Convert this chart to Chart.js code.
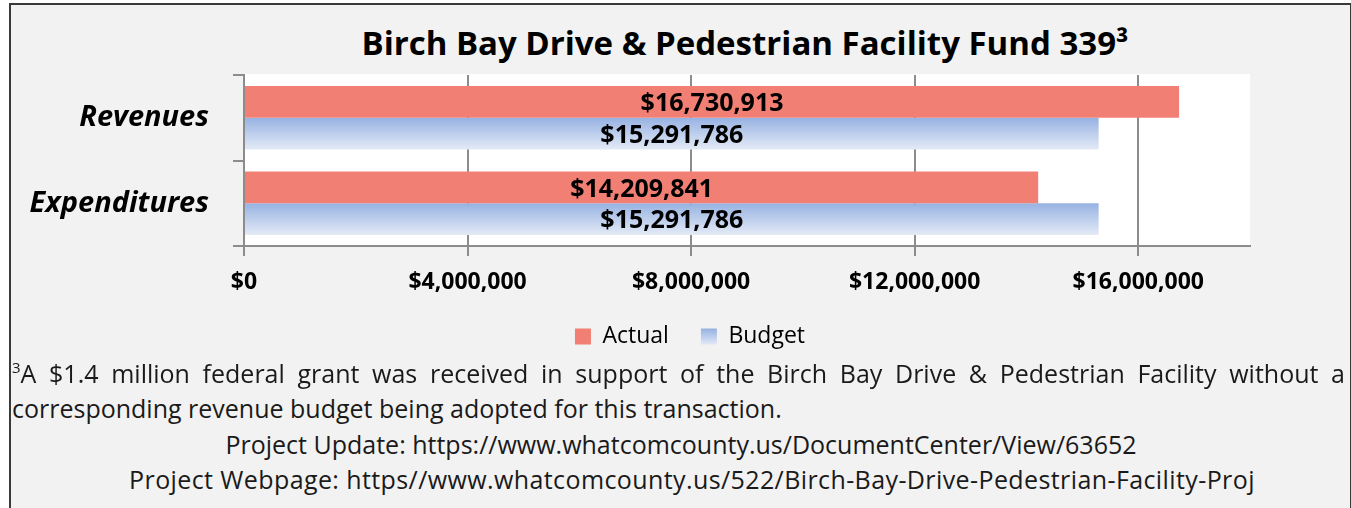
<!DOCTYPE html>
<html>
<head>
<meta charset="utf-8">
<title>Birch Bay Drive & Pedestrian Facility Fund 339</title>
<script src="https://cdn.jsdelivr.net/npm/chart.js@4.4.0/dist/chart.umd.min.js"></script>
<style>
  html, body { margin: 0; padding: 0; background: #fff; }
  body { width: 1351px; height: 508px; overflow: hidden; position: relative; font-family: "Open Sans", sans-serif; color: #000; }
  #frame { position: absolute; left: 9px; top: 3px; width: 1339px; height: 530px; border: 2px solid #3a3a3a; background: #f2f2f2; }
  #chartBox { position: absolute; left: 0; top: 0; width: 1351px; height: 360px; }
  #title { position: absolute; left: 0; top: 21px; width: 1490px; text-align: center; font-weight: bold; font-size: 33px; line-height: 44px; }
  .note { position: absolute; font-size: 25px; line-height: 35px; color: #1a1a1a; white-space: nowrap; }
  #note1 { left: 12px; top: 356px; width: 1333px; text-align: justify; text-align-last: justify; white-space: normal; }
  #note1 sup { font-size: 15px; vertical-align: 10px; line-height: 0; }
  #note2 { left: 12px; top: 391px; }
  #link1 { left: 0; top: 427px; width: 1362px; text-align: center; }
  #link2 { left: 0; top: 462px; width: 1384px; text-align: center; letter-spacing: 0.4px; }
</style>
</head>
<body>
<div id="frame"></div>
<div id="title">Birch Bay Drive &amp; Pedestrian Facility Fund 339³</div>
<div id="chartBox"><canvas id="fundChart"></canvas></div>
<div class="note" id="note1"><sup>3</sup>A $1.4 million federal grant was received in support of the Birch Bay Drive &amp; Pedestrian Facility without a</div>
<div class="note" id="note2">corresponding revenue budget being adopted for this transaction.</div>
<div class="note" id="link1">Project Update: https://www.whatcomcounty.us/DocumentCenter/View/63652</div>
<div class="note" id="link2">Project Webpage: https//www.whatcomcounty.us/522/Birch-Bay-Drive-Pedestrian-Facility-Proj</div>

<script>
const categories = ['Revenues', 'Expenditures'];
const seriesNames = ['Actual', 'Budget'];
const actualValues = [16730913, 14209841];
const budgetValues = [15291786, 15291786];
const axisMax = 18000000;
const tickValues = [0, 4000000, 8000000, 12000000, 16000000];

const FONT = 'Open Sans';
const ACTUAL_RED = '#f17f74';
const BUDGET_TOP = '#97b2e2';
const BUDGET_BOTTOM = '#e3eaf6';
const GRID = '#8c8c8c';
const CAT_PCT = 0.74;
const LEGEND_PAD = 32;

const money = v => '$' + Math.round(v).toLocaleString('en-US');

function blueFade(ctx, top, bottom) {
  if (!Number.isFinite(top) || !Number.isFinite(bottom) || bottom <= top) return BUDGET_TOP;
  const g = ctx.createLinearGradient(0, top, 0, bottom);
  g.addColorStop(0, BUDGET_TOP);
  g.addColorStop(1, BUDGET_BOTTOM);
  return g;
}

// budget bars fade from blue at the top edge to pale at the bottom
function budgetFill(c) {
  const chart = c.chart;
  const y = chart.scales.y;
  if (!y || c.dataIndex === undefined) return BUDGET_TOP;
  const band = (y.bottom - y.top) / categories.length;
  const mid = y.getPixelForValue(c.dataIndex);
  return blueFade(chart.ctx, mid, mid + band * CAT_PCT / 2);
}

const plotBackground = {
  id: 'plotBackground',
  beforeDraw(chart) {
    const a = chart.chartArea;
    const ctx = chart.ctx;
    ctx.save();
    ctx.fillStyle = '#ffffff';
    ctx.fillRect(a.left, a.top - 1, a.right - a.left, a.bottom - a.top + 1);
    ctx.restore();
  }
};

// nudge the legend row sideways so it sits under the middle of the bars
const legendShift = {
  id: 'legendShift',
  afterLayout(chart, args, opts) {
    const lg = chart.legend;
    if (!lg) return;
    lg.left += opts.dx;
    lg.right += opts.dx;
  }
};

const barValueLabels = {
  id: 'barValueLabels',
  afterDatasetsDraw(chart) {
    const ctx = chart.ctx;
    ctx.save();
    ctx.font = 'bold 25px "' + FONT + '", sans-serif';
    ctx.fillStyle = '#000';
    ctx.textAlign = 'center';
    ctx.textBaseline = 'middle';
    chart.data.datasets.forEach((ds, i) => {
      chart.getDatasetMeta(i).data.forEach((bar, j) => {
        ctx.fillText(money(ds.data[j]), (bar.x + bar.base) / 2, bar.y + 2);
      });
    });
    ctx.restore();
  }
};

new Chart(document.getElementById('fundChart'), {
  type: 'bar',
  data: {
    labels: categories,
    datasets: [
      { label: seriesNames[0], data: actualValues, backgroundColor: ACTUAL_RED },
      { label: seriesNames[1], data: budgetValues, backgroundColor: budgetFill }
    ]
  },
  options: {
    indexAxis: 'y',
    responsive: true,
    maintainAspectRatio: false,
    animation: false,
    categoryPercentage: CAT_PCT,
    barPercentage: 1,
    layout: { padding: { top: 75, left: 10, right: 101, bottom: 2 } },
    scales: {
      x: {
        type: 'linear',
        min: 0,
        max: axisMax,
        // the axis runs on to 18M, but only the 4M steps get a line and a label
        afterBuildTicks(scale) {
          scale.ticks = tickValues.map(v => ({ value: v }));
        },
        afterFit(scale) { scale.height = 47; },
        ticks: {
          callback: v => money(v),
          color: '#000',
          padding: 13,
          maxRotation: 0,
          minRotation: 0,
          autoSkip: false,
          font: { family: FONT, size: 23, weight: 'bold' }
        },
        grid: { color: GRID, lineWidth: 2, tickLength: 10 },
        border: { color: GRID, width: 2 }
      },
      y: {
        afterFit(scale) { scale.width = 234; },
        ticks: {
          color: '#000',
          padding: 24,
          font: { family: FONT, size: 29, weight: 'bold', style: 'italic' }
        },
        grid: { drawOnChartArea: false, color: GRID, lineWidth: 2, tickLength: 11, offset: true },
        border: { color: GRID, width: 2 }
      }
    },
    plugins: {
      title: { display: false },
      tooltip: { enabled: false },
      legendShift: { dx: 60 },
      legend: {
        position: 'bottom',
        labels: {
          boxWidth: 16,
          boxHeight: 16,
          padding: LEGEND_PAD,
          color: '#000',
          font: { family: FONT, size: 23 },
          generateLabels(chart) {
            const items = Chart.defaults.plugins.legend.labels.generateLabels(chart);
            const lg = chart.legend;
            const top = lg && Number.isFinite(lg.top) ? lg.top + LEGEND_PAD + 4 : NaN;
            items.forEach(it => {
              it.lineWidth = 0;
              it.strokeStyle = 'rgba(0,0,0,0)';
              it.fillStyle = it.datasetIndex === 1 ? blueFade(chart.ctx, top, top + 16) : ACTUAL_RED;
            });
            return items;
          }
        }
      }
    }
  },
  plugins: [plotBackground, legendShift, barValueLabels]
});
</script>
</body>
</html>
